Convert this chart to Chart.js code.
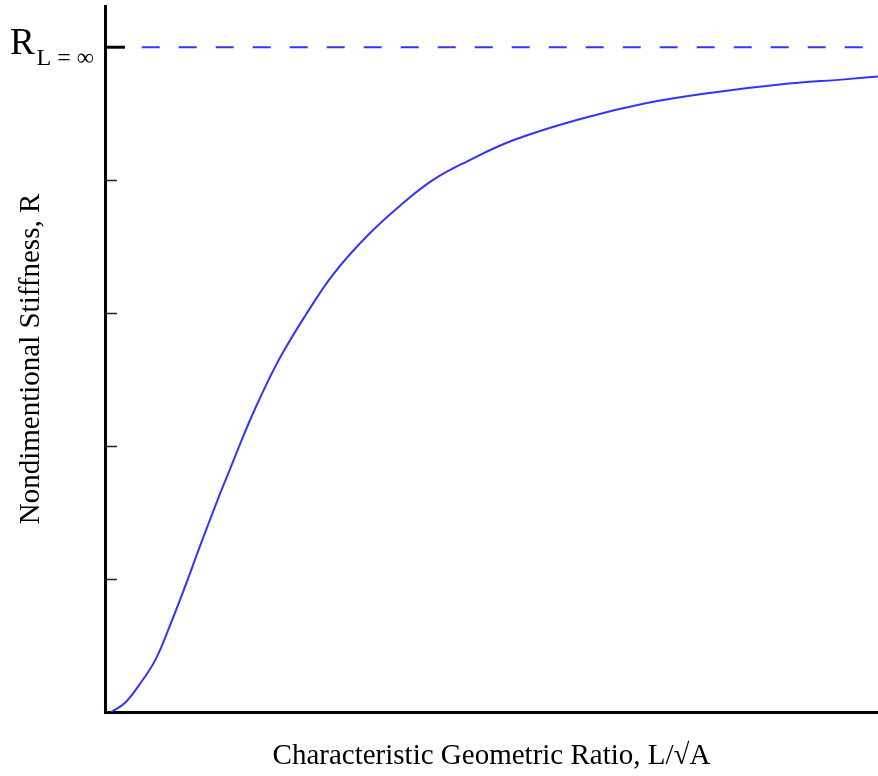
<!DOCTYPE html>
<html>
<head>
<meta charset="utf-8">
<script src="https://cdn.jsdelivr.net/npm/chart.js@4/dist/chart.umd.min.js"></script>
<style>
  html, body { margin: 0; padding: 0; background: #fff; }
  #wrap { width: 878px; height: 776px; position: relative; }
</style>
</head>
<body>
<div id="wrap"><canvas id="c" width="878" height="776"></canvas></div>
<script>
// Characteristic geometric ratio (arbitrary units, axis unlabeled)
const RATIO = [0.08, 0.26, 0.45, 0.65, 0.84, 1.04, 1.23, 1.46, 1.62, 1.80, 1.98, 2.26, 2.59, 2.95, 3.39, 3.82, 4.24, 4.68, 5.28, 6.15, 7.01, 7.87, 8.73, 9.60, 10.00];
// Nondimensional stiffness R
const STIFFNESS = [0.00, 0.07, 0.21, 0.39, 0.65, 0.95, 1.25, 1.60, 1.83, 2.09, 2.33, 2.66, 2.98, 3.29, 3.58, 3.81, 4.00, 4.14, 4.30, 4.46, 4.58, 4.66, 4.72, 4.76, 4.78];
// Asymptote R_{L=inf}
const R_INF = 5;
const ASYMPTOTE_X = [0.475, 10];
// Minor y tick values (unlabeled)
const Y_TICKS = [1, 2, 3, 4];
const Y_MAX = 5.31;
const X_MAX = 10;

const X_TITLE = 'Characteristic Geometric Ratio, L/\u221AA';
const Y_TITLE = 'Nondimentional Stiffness, R';
const R_LABEL_MAIN = 'R';
const R_LABEL_SUB = 'L = \u221E';

const BLUE = '#3333ff';
const SERIF = '"Liberation Serif", "Times New Roman", serif';

const curveData = RATIO.map((x, i) => ({ x: x, y: STIFFNESS[i] }));
const asymptoteData = ASYMPTOTE_X.map(x => ({ x: x, y: R_INF }));

const tickPlugin = {
  id: 'innerTicks',
  afterDraw(chart) {
    const ctx = chart.ctx;
    const ys = chart.scales.y;
    const xs = chart.scales.x;
    const x0 = xs.left;
    ctx.save();
    ctx.strokeStyle = '#222';
    ctx.lineWidth = 1.5;
    Y_TICKS.forEach(v => {
      const py = Math.round(ys.getPixelForValue(v)) + 0.5;
      ctx.beginPath();
      ctx.moveTo(x0, py);
      ctx.lineTo(x0 + 12, py);
      ctx.stroke();
    });
    // asymptote tick
    const pInf = ys.getPixelForValue(R_INF);
    ctx.strokeStyle = '#000';
    ctx.lineWidth = 3;
    ctx.beginPath();
    ctx.moveTo(x0, pInf);
    ctx.lineTo(x0 + 20, pInf);
    ctx.stroke();
    // label R_{L=inf}
    ctx.fillStyle = '#000';
    ctx.textBaseline = 'alphabetic';
    ctx.textAlign = 'left';
    ctx.font = '37px ' + SERIF;
    ctx.fillText(R_LABEL_MAIN, 10, pInf + 6.5);
    ctx.font = '24px ' + SERIF;
    ctx.fillText(R_LABEL_SUB, 36.5, pInf + 18);
    ctx.restore();
  }
};

new Chart(document.getElementById('c'), {
  type: 'scatter',
  data: {
    datasets: [
      {
        data: curveData,
        showLine: true,
        borderColor: BLUE,
        borderWidth: 2,
        pointRadius: 0,
        tension: 0.4,
        fill: false
      },
      {
        data: asymptoteData,
        showLine: true,
        borderColor: BLUE,
        borderWidth: 2,
        borderDash: [18, 19],
        pointRadius: 0,
        fill: false
      }
    ]
  },
  options: {
    responsive: false,
    devicePixelRatio: 1,
    animation: false,
    layout: { padding: { top: 6, left: 0, right: 0, bottom: 0 } },
    plugins: { legend: { display: false }, tooltip: { enabled: false } },
    scales: {
      x: {
        type: 'linear',
        min: 0,
        max: X_MAX,
        ticks: { display: false },
        grid: { drawOnChartArea: false, drawTicks: false },
        border: { display: true, width: 3, color: '#000' },
        title: {
          display: true,
          text: X_TITLE,
          color: '#000',
          font: { family: SERIF, size: 29 },
          padding: { top: 0, bottom: 2 }
        },
        afterFit(s) { s.height = 64; }
      },
      y: {
        type: 'linear',
        min: 0,
        max: Y_MAX,
        ticks: { display: false },
        grid: { drawOnChartArea: false, drawTicks: false },
        border: { display: true, width: 3, color: '#000' },
        title: {
          display: true,
          text: Y_TITLE,
          color: '#000',
          font: { family: SERIF, size: 29 },
          padding: { top: 14, bottom: 0 }
        },
        afterFit(s) { s.width = 105; }
      }
    }
  },
  plugins: [tickPlugin]
});
</script>
</body>
</html>
